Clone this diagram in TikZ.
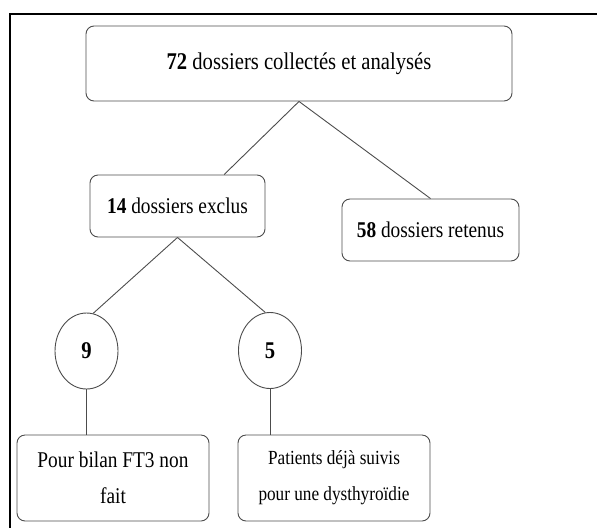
\documentclass[tikz,border=0pt]{standalone}
\usepackage{fontspec}
\setmainfont{Liberation Serif}[FakeStretch=0.86]
\usetikzlibrary{shapes.geometric}

\begin{document}
\begin{tikzpicture}[x=1pt, y=-1pt,
  box/.style={draw=black!70, rounded corners=8pt, line width=0.9pt, align=center, inner sep=0pt, font=\fontsize{22.5}{36}\selectfont},
  count/.style={draw=black!70, ellipse, line width=0.9pt, inner sep=0pt, minimum width=63, minimum height=76, font=\fontsize{24}{28}\selectfont\bfseries},
  link/.style={draw=black!70, line width=0.9pt}]
\useasboundingbox (0,0) rectangle (597,528);

% frame
\draw[line width=1.8pt] (597,14) -- (10,14) -- (10,528);

\node[box, minimum width=426, minimum height=75, font=\fontsize{24}{36}\selectfont] (total) at (299,63.5) {\textbf{72} dossiers collectés et analysés};

\node[box, minimum width=175, minimum height=62] (excl) at (177.5,206) {\textbf{14} dossiers exclus};
\node[box, minimum width=177, minimum height=62] (ret) at (430.5,230) {\textbf{58} dossiers retenus};

\node[count] (c9) at (86.5,351) {9};
\node[count] (c5) at (270,350.5) {5};

\node[box, minimum width=192, minimum height=86] (b9) at (113,478) {Pour bilan FT3 non\\fait};
\node[box, minimum width=192, minimum height=86, font=\fontsize{20}{36}\selectfont] (b5) at (334,478) {Patients déjà suivis\\pour une dysthyroïdie};

\draw[link] (total.south) -- (excl.34);
\draw[link] (total.south) -- (ret.north);

\draw[link] (excl.south) -- (c9.80);
\draw[link] (excl.south) -- (c5.97);

\draw[link] (c9.south) -- (c9.south |- b9.north);
\draw[link] (c5.south) -- (c5.south |- b5.north);

\end{tikzpicture}
\end{document}
